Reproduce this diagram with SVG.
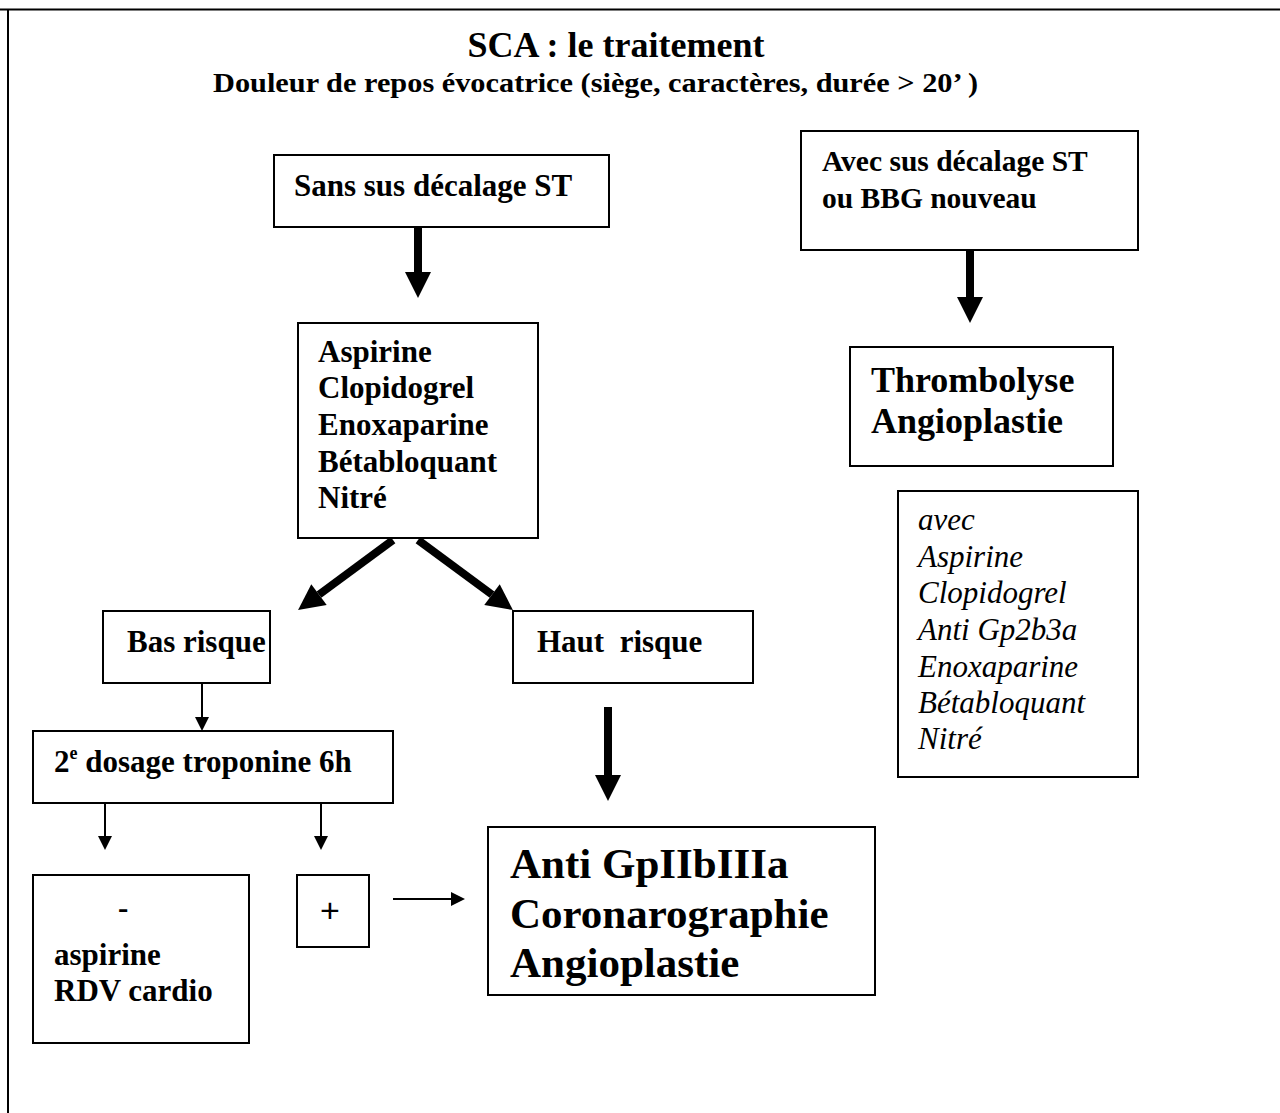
<svg xmlns="http://www.w3.org/2000/svg" width="1280" height="1113" viewBox="0 0 1280 1113">
  <style>
    .box { fill: #ffffff; stroke: #000000; stroke-width: 2; }
    .frame { stroke: #000000; stroke-width: 2; fill: none; }
    .t { font-family: "Liberation Serif", "Times New Roman", serif; font-weight: bold; fill: #000000; }
    .ti { font-family: "Liberation Serif", "Times New Roman", serif; font-style: italic; fill: #000000; }
    .thick { stroke: #000000; stroke-width: 8; fill: none; }
    .thin { stroke: #000000; stroke-width: 2; fill: none; }
  </style>
  <defs>
    <marker id="headThick" markerUnits="userSpaceOnUse" markerWidth="26" markerHeight="26" refX="0" refY="13" orient="auto" overflow="visible">
      <path d="M0,0 L26,13 L0,26 z" fill="#000000"/>
    </marker>
    <marker id="headThin" markerUnits="userSpaceOnUse" markerWidth="14" markerHeight="14" refX="0" refY="7" orient="auto" overflow="visible">
      <path d="M0,0 L14,7 L0,14 z" fill="#000000"/>
    </marker>
  </defs>

  <rect x="0" y="0" width="1280" height="1113" fill="#ffffff"/>

  <!-- page frame -->
  <g id="frame">
    <line class="frame" x1="0" y1="9.5" x2="1280" y2="9.5"/>
    <line class="frame" x1="8" y1="9" x2="8" y2="1113"/>
  </g>

  <!-- heading -->
  <g id="title">
    <text class="t" x="616" y="57" font-size="36" text-anchor="middle">SCA : le traitement</text>
    <text class="t" x="213" y="92" font-size="27" textLength="765" lengthAdjust="spacingAndGlyphs">Douleur de repos évocatrice (siège, caractères, durée &gt; 20’ )</text>
  </g>

  <!-- connectors -->
  <g id="connectors">
    <line class="thick" x1="418" y1="227" x2="418" y2="272" marker-end="url(#headThick)"/>
    <line class="thick" x1="970" y1="250" x2="970" y2="297" marker-end="url(#headThick)"/>
    <line class="thick" x1="393" y1="540" x2="319" y2="594.6" marker-end="url(#headThick)"/>
    <line class="thick" x1="418" y1="540" x2="492" y2="594.6" marker-end="url(#headThick)"/>
    <line class="thick" x1="608" y1="707" x2="608" y2="775" marker-end="url(#headThick)"/>
    <line class="thin" x1="202" y1="683" x2="202" y2="717" marker-end="url(#headThin)"/>
    <line class="thin" x1="105" y1="803" x2="105" y2="836" marker-end="url(#headThin)"/>
    <line class="thin" x1="321" y1="803" x2="321" y2="836" marker-end="url(#headThin)"/>
    <line class="thin" x1="393" y1="899" x2="451" y2="899" marker-end="url(#headThin)"/>
  </g>

  <g id="sans-st">
    <rect class="box" x="274" y="155" width="335" height="72"/>
    <text class="t" x="294" y="196" font-size="31">Sans sus décalage ST</text>
  </g>

  <g id="avec-st">
    <rect class="box" x="801" y="131" width="337" height="119"/>
    <text class="t" x="822" y="171" font-size="29.5">Avec sus décalage ST</text>
    <text class="t" x="822" y="208" font-size="29.5">ou BBG nouveau</text>
  </g>

  <g id="thrombolyse">
    <rect class="box" x="850" y="347" width="263" height="119"/>
    <text class="t" x="871" y="392" font-size="36">Thrombolyse</text>
    <text class="t" x="871" y="433" font-size="36">Angioplastie</text>
  </g>

  <g id="traitement-initial">
    <rect class="box" x="298" y="323" width="240" height="215"/>
    <text class="t" x="318" y="362" font-size="31">Aspirine</text>
    <text class="t" x="318" y="398" font-size="31">Clopidogrel</text>
    <text class="t" x="318" y="435" font-size="31">Enoxaparine</text>
    <text class="t" x="318" y="472" font-size="31">Bétabloquant</text>
    <text class="t" x="318" y="508" font-size="31">Nitré</text>
  </g>

  <g id="associes">
    <rect class="box" x="898" y="491" width="240" height="286"/>
    <text class="ti" x="918" y="530" font-size="31">avec</text>
    <text class="ti" x="918" y="567" font-size="31">Aspirine</text>
    <text class="ti" x="918" y="603" font-size="31">Clopidogrel</text>
    <text class="ti" x="918" y="640" font-size="31">Anti Gp2b3a</text>
    <text class="ti" x="918" y="677" font-size="31">Enoxaparine</text>
    <text class="ti" x="918" y="713" font-size="31">Bétabloquant</text>
    <text class="ti" x="918" y="749" font-size="31">Nitré</text>
  </g>

  <g id="bas-risque">
    <rect class="box" x="103" y="611" width="167" height="72"/>
    <text class="t" x="127" y="652" font-size="31">Bas risque</text>
  </g>

  <g id="haut-risque">
    <rect class="box" x="513" y="611" width="240" height="72"/>
    <text class="t" x="537" y="652" font-size="31" xml:space="preserve">Haut  risque</text>
  </g>

  <g id="troponine">
    <rect class="box" x="33" y="731" width="360" height="72"/>
    <text class="t" x="54" y="772" font-size="31">2<tspan font-size="18" dy="-13">e</tspan><tspan dy="13"> dosage troponine 6h</tspan></text>
  </g>

  <g id="negatif">
    <rect class="box" x="33" y="875" width="216" height="168"/>
    <text class="t" x="118" y="918" font-size="31">-</text>
    <text class="t" x="54" y="965" font-size="31">aspirine</text>
    <text class="t" x="54" y="1001" font-size="31">RDV cardio</text>
  </g>

  <g id="positif">
    <rect class="box" x="297" y="875" width="72" height="72"/>
    <text x="330" y="922" font-size="34" text-anchor="middle" font-family="Liberation Sans, Arial, sans-serif" fill="#000000">+</text>
  </g>

  <g id="invasif">
    <rect class="box" x="488" y="827" width="387" height="168"/>
    <text class="t" x="510" y="878" font-size="43">Anti GpIIbIIIa</text>
    <text class="t" x="510" y="928" font-size="43">Coronarographie</text>
    <text class="t" x="510" y="977" font-size="43">Angioplastie</text>
  </g>
</svg>
